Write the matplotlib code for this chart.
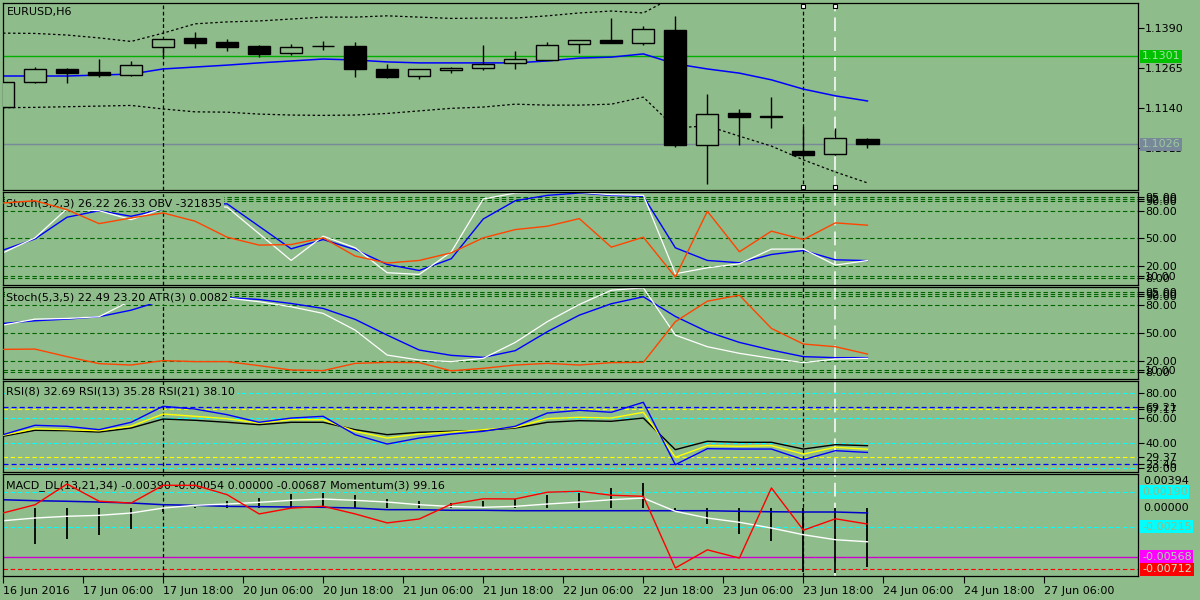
"""EURUSD H6 chart with stochastic, RSI and MACD panels (MT4 look)."""

import numpy as np
import matplotlib.pyplot as plt

BG = "#8FBC8B"

# ---- price data (H6 bars) ----
bars = np.arange(28)
opens = [1.1143, 1.1221, 1.1262, 1.1253, 1.1243, 1.1331, 1.1359, 1.1346, 1.1334, 1.1312,
         1.1334, 1.1334, 1.1262, 1.1240, 1.1259, 1.1265, 1.1281, 1.1290, 1.1340, 1.1353,
         1.1343, 1.1384, 1.1024, 1.1124, 1.1115, 1.1006, 1.0996, 1.1043]
highs = [1.1221, 1.1268, 1.1265, 1.1293, 1.1287, 1.1356, 1.1378, 1.1356, 1.1337, 1.1340,
         1.1349, 1.1346, 1.1278, 1.1262, 1.1268, 1.1337, 1.1318, 1.1346, 1.1353, 1.1421,
         1.1396, 1.1428, 1.1184, 1.1137, 1.1174, 1.1081, 1.1078, 1.1046]
lows = [1.1140, 1.1218, 1.1218, 1.1237, 1.1240, 1.1299, 1.1328, 1.1318, 1.1299, 1.1306,
        1.1321, 1.1237, 1.1234, 1.1231, 1.1249, 1.1259, 1.1262, 1.1289, 1.1312, 1.1343,
        1.1337, 1.1018, 1.0902, 1.1024, 1.1078, 1.0990, 1.0993, 1.1015]
closes = [1.1221, 1.1262, 1.1249, 1.1243, 1.1274, 1.1356, 1.1343, 1.1331, 1.1309, 1.1331,
          1.1333, 1.1262, 1.1237, 1.1262, 1.1265, 1.1278, 1.1293, 1.1337, 1.1353, 1.1343,
          1.1387, 1.1024, 1.1121, 1.1112, 1.1112, 1.0993, 1.1046, 1.1026]
ma = [1.1240, 1.1240, 1.1240, 1.1243, 1.1246, 1.1262, 1.1268, 1.1274, 1.1281, 1.1287,
      1.1293, 1.1290, 1.1284, 1.1281, 1.1281, 1.1281, 1.1281, 1.1287, 1.1296, 1.1299,
      1.1309, 1.1278, 1.1262, 1.1249, 1.1228, 1.1199, 1.1178, 1.1162]
band_up = [1.1374, 1.1373, 1.1368, 1.1359, 1.1348, 1.1374, 1.1403, 1.1409, 1.1412, 1.1418,
           1.1424, 1.1424, 1.1428, 1.1424, 1.1420, 1.1421, 1.1421, 1.1428, 1.1437, 1.1443,
           1.1437, 1.1490, 1.1510, 1.1505, 1.1500, 1.1495, 1.1490, 1.1485]
band_dn = [1.1141, 1.1142, 1.1144, 1.1146, 1.1148, 1.1137, 1.1128, 1.1127, 1.1121, 1.1118,
           1.1117, 1.1118, 1.1123, 1.1131, 1.1139, 1.1143, 1.1152, 1.1149, 1.1149, 1.1152,
           1.1174, 1.1078, 1.1084, 1.1052, 1.1021, 1.0978, 1.0940, 1.0906]
price_ticks = [1.1390, 1.1265, 1.1140, 1.1015]
green_level = 1.1301
last_price = 1.1026

# ---- Stoch(3,2,3) + OBV (scaled) ----
st1_main = [37.5, 49.6, 72.9, 79.9, 73.9, 81.6, 86.0, 87.3, 63.1, 38.9, 48.9, 38.1, 22.1, 15.6,
            28.2, 71.0, 90.6, 96.4, 98.9, 96.4, 95.4, 40.0, 26.4, 23.9, 32.8, 37.1, 27.1, 26.22]
st1_sig = [34.6, 50.7, 82.1, 79.9, 70.3, 82.3, 86.0, 83.7, 55.1, 26.4, 52.5, 40.0, 13.2, 11.4,
           35.5, 92.5, 98.9, 100.0, 99.5, 97.1, 96.4, 12.1, 18.5, 22.8, 38.6, 38.6, 21.4, 26.33]
obv_scaled = [88.2, 90.6, 81.0, 66.0, 72.1, 77.5, 68.6, 51.4, 42.9, 43.5, 50.7, 31.1, 23.6, 26.4,
              34.6, 50.7, 59.6, 63.2, 71.4, 40.7, 51.4, 8.6, 79.3, 35.7, 57.9, 48.9, 66.8, 64.3]

# ---- Stoch(5,3,5) + ATR (scaled) ----
st2_main = [60.4, 63.3, 65.1, 67.7, 74.8, 85.5, 88.0, 88.5, 86.4, 82.1, 76.7, 64.8, 47.7, 31.5,
            25.7, 23.5, 30.8, 51.4, 69.4, 81.8, 89.4, 68.0, 51.4, 39.8, 31.5, 24.3, 23.2, 23.20]
st2_sig = [58.6, 65.1, 65.8, 67.7, 85.2, 91.0, 90.0, 88.0, 84.0, 78.5, 71.3, 53.1, 26.0, 20.6,
           18.9, 22.5, 39.8, 62.3, 81.0, 96.5, 99.1, 47.7, 35.1, 27.9, 22.5, 17.8, 21.7, 22.49]
atr_scaled = [32.2, 32.5, 24.3, 16.7, 15.2, 20.0, 18.9, 18.9, 14.5, 9.8, 9.1, 17.0, 18.1, 17.8,
              8.9, 11.6, 15.2, 17.0, 15.2, 17.8, 18.1, 62.3, 84.6, 91.1, 55.0, 38.0, 35.1, 27.1]
stoch_levels = [95, 92, 90, 80, 50, 20, 10, 8]

# ---- RSI ----
rsi8 = [46.9, 54.4, 53.6, 50.9, 56.8, 69.6, 67.4, 62.9, 56.8, 60.2, 61.6, 46.9, 39.4, 44.2,
        47.4, 49.6, 53.6, 64.2, 66.4, 64.8, 72.8, 22.9, 35.7, 35.4, 35.4, 26.9, 34.1, 32.69]
rsi13 = [46.4, 51.7, 50.9, 50.1, 53.6, 63.4, 61.6, 59.7, 56.2, 58.9, 58.9, 49.6, 44.2, 47.4,
         49.0, 50.9, 52.8, 59.7, 60.8, 60.2, 64.8, 28.8, 38.1, 37.6, 38.1, 31.4, 36.8, 35.28]
rsi21 = [45.6, 50.4, 50.1, 49.0, 52.2, 59.4, 58.4, 56.8, 54.9, 56.8, 56.8, 50.9, 46.9, 48.8,
         49.6, 50.4, 52.2, 56.8, 58.1, 57.6, 60.2, 34.9, 41.6, 40.8, 40.8, 35.4, 38.9, 38.10]
rsi_cyan_levels = [80, 60, 40, 20]
rsi_blue_levels = [69.21, 23.46]
rsi_yellow_levels = [67.17, 29.37]

# ---- MACD + Momentum ----
macd_hist = [-0.00300, -0.00413, -0.00358, -0.00308, -0.00238, -0.00040, 0.00020, 0.00089,
             0.00120, 0.00167, 0.00178, 0.00159, 0.00112, 0.00085, 0.00062, 0.00082, 0.00112,
             0.00159, 0.00178, 0.00237, 0.00295, -0.00035, -0.00179, -0.00296, -0.00378,
             -0.00740, -0.00755, -0.00687]
macd_main = [-0.00145, -0.00113, -0.00093, -0.00082, -0.00055, 0.00003, 0.00035, 0.00050,
             0.00070, 0.00093, 0.00108, 0.00093, 0.00073, 0.00042, 0.00021, 0.00012, 0.00023,
             0.00050, 0.00073, 0.00100, 0.00120, -0.00035, -0.00113, -0.00163, -0.00230,
             -0.00308, -0.00366, -0.00390]
macd_sig = [0.00100, 0.00089, 0.00082, 0.00073, 0.00062, 0.00042, 0.00035, 0.00023, 0.00019,
            0.00015, 0.00012, 0.00003, -0.00016, -0.00016, -0.00023, -0.00023, -0.00028,
            -0.00028, -0.00028, -0.00028, -0.00028, -0.00028, -0.00028, -0.00035, -0.00040,
            -0.00043, -0.00043, -0.00054]
momentum = [99.75, 100.19, 101.30, 100.38, 100.28, 101.23, 101.23, 100.73, 99.70, 100.01,
            100.11, 99.70, 99.22, 99.43, 100.22, 100.51, 100.50, 100.86, 100.91, 100.70,
            100.64, 96.81, 97.78, 97.34, 101.09, 98.83, 99.44, 99.16]
mom_scale = 0.00218  # momentum drawn in the MACD window: (mom - 100) * scale
macd_cyan = [0.00190, -0.00215]
macd_magenta = -0.00568
macd_red = -0.00712

tick_pos = [0, 2.5, 5, 7.5, 10, 12.5, 15, 17.5, 20, 22.5, 25, 27.5, 30, 32.5]
tick_lbl = ["16 Jun 2016", "17 Jun 06:00", "17 Jun 18:00", "20 Jun 06:00", "20 Jun 18:00",
            "21 Jun 06:00", "21 Jun 18:00", "22 Jun 06:00", "22 Jun 18:00", "23 Jun 06:00",
            "23 Jun 18:00", "24 Jun 06:00", "24 Jun 18:00", "27 Jun 06:00"]

fig = plt.figure(figsize=(12, 6), dpi=100, facecolor=BG)


def panel(top, bottom):
    ax = fig.add_axes([3 / 1200, 1 - bottom / 600, 1135 / 1200, (bottom - top) / 600])
    ax.set_facecolor(BG)
    ax.set_xlim(0, 35.45)
    for s in ax.spines.values():
        s.set_color("black")
        s.set_linewidth(0.9)
    ax.tick_params(axis="y", left=False, right=True, labelleft=False, labelright=True,
                   length=4, width=0.8, pad=1, labelsize=8, colors="black")
    ax.set_xticks([])
    # vertical markers
    ax.axvline(5, color="black", ls=(0, (3, 2)), lw=0.9, zorder=2)
    ax.axvline(25, color="black", ls=(0, (3, 2)), lw=0.9, zorder=2)
    ax.axvline(26, color="white", ls=(0, (9, 4)), lw=1.1, zorder=2)
    return ax


def label(ax, y, text):
    ax.text(0.003, y, text, transform=ax.transAxes, fontsize=8, ha="left", va="center",
            bbox=dict(facecolor=BG, edgecolor="none", pad=1.0), zorder=3)


def box(ax, y, text, fc, tc):
    ax.text(1.0035, y, text, transform=ax.get_yaxis_transform(), fontsize=8, color=tc,
            ha="left", va="center", clip_on=False,
            bbox=dict(boxstyle="square,pad=0.15", facecolor=fc, edgecolor="none"))


# ---- main price panel ----
ax = panel(3, 190)
ax.set_ylim(1.08838, 1.14681)
o, h, l, c = map(np.array, (opens, highs, lows, closes))
up = c >= o
ax.vlines(bars, l, h, color="black", lw=1.0, zorder=3)
ax.bar(bars, np.maximum(np.abs(c - o), 0.00003), bottom=np.minimum(o, c), width=0.69,
       color=np.where(up, BG, "black"), edgecolor="black", lw=1.0, zorder=4)
ax.plot(bars, ma, color="#0000FF", lw=1.1, zorder=2)
ax.plot(bars, band_up, color="black", ls=(0, (2, 2)), lw=0.9, zorder=2)
ax.plot(bars, band_dn, color="black", ls=(0, (2, 2)), lw=0.9, zorder=2)
ax.axhline(green_level, color="#00B000", lw=1.0, zorder=1)
ax.axhline(last_price, color="#778899", lw=1.0, zorder=1)
ax.plot([25, 25, 26, 26], [0.985, 0.017, 0.985, 0.017], "s", ms=3.5, mfc="white", mec="black",
        mew=0.8, transform=ax.get_xaxis_transform(), clip_on=False, zorder=6)
ax.set_yticks(price_ticks)
ax.set_yticklabels([f"{v:.4f}" for v in price_ticks])
box(ax, green_level, f"{green_level:.4f}", "#00C000", "#A8E0A8")
box(ax, last_price, f"{last_price:.4f}", "#778899", "#9CC89C")
ax.text(0.0035, 0.952, "EURUSD,H6", transform=ax.transAxes, fontsize=8, ha="left", va="center")

# ---- Stoch(3,2,3) / OBV ----
ax = panel(192, 285)
ax.set_ylim(0, 100)
for v in stoch_levels:
    ax.axhline(v, color="#006400", ls=(0, (4, 2.5)), lw=0.8, zorder=1)
ax.plot(bars, st1_main, color="#0000FF", lw=1.0, zorder=2)
ax.plot(bars, st1_sig, color="white", lw=0.9, zorder=2)
label(ax, 0.876, "Stoch(3,2,3) 26.22 26.33 OBV -321835")
ax.plot(bars, obv_scaled, color="#FF4500", lw=1.0, zorder=4)
ax.set_yticks(stoch_levels)
ax.set_yticklabels([f"{v:.2f}" for v in stoch_levels])

# ---- Stoch(5,3,5) / ATR ----
ax = panel(287, 379)
ax.set_ylim(0, 100)
for v in stoch_levels:
    ax.axhline(v, color="#006400", ls=(0, (4, 2.5)), lw=0.8, zorder=1)
ax.plot(bars, st2_main, color="#0000FF", lw=1.0, zorder=2)
ax.plot(bars, st2_sig, color="white", lw=0.9, zorder=2)
label(ax, 0.886, "Stoch(5,3,5) 22.49 23.20 ATR(3) 0.0082")
ax.plot(bars, atr_scaled, color="#FF4500", lw=1.0, zorder=4)
ax.set_yticks(stoch_levels)
ax.set_yticklabels([f"{v:.2f}" for v in stoch_levels])

# ---- RSI ----
ax = panel(381, 472)
ax.set_ylim(17.04, 89.84)
for v in rsi_cyan_levels:
    ax.axhline(v, color="#00FFFF", ls=(0, (4, 2.5)), lw=0.8, zorder=1)
for v in rsi_blue_levels:
    ax.axhline(v, color="#0000FF", ls=(0, (4, 2.5)), lw=0.9, zorder=1)
for v in rsi_yellow_levels:
    ax.axhline(v, color="#FFFF00", ls=(0, (4, 2.5)), lw=0.8, zorder=1)
label(ax, 0.885, "RSI(8) 32.69 RSI(13) 35.28 RSI(21) 38.10")
ax.plot(bars, rsi21, color="black", lw=1.0, zorder=4)
ax.plot(bars, rsi13, color="#FFFF00", lw=1.0, zorder=4)
ax.plot(bars, rsi8, color="#0000FF", lw=1.0, zorder=4)
rsi_ticks = [80, rsi_blue_levels[0], rsi_yellow_levels[0], 60, 40,
             rsi_yellow_levels[1], rsi_blue_levels[1], 20]
ax.set_yticks(rsi_ticks)
ax.set_yticklabels([f"{v:.2f}" for v in rsi_ticks])

# ---- MACD / Momentum ----
ax = panel(474, 576)
ax.set_ylim(-0.00789, 0.0040)
for v in macd_cyan:
    ax.axhline(v, color="#00FFFF", ls=(0, (4, 2.5)), lw=0.8, zorder=1)
ax.axhline(macd_magenta, color="#CC00CC", lw=1.0, zorder=1)
ax.axhline(macd_red, color="#FF0000", ls=(0, (4, 2.5)), lw=0.8, zorder=1)
ax.vlines(bars, 0, macd_hist, color="black", lw=1.3, zorder=2)
ax.plot(bars, macd_sig, color="#0000CC", lw=1.1, zorder=2)
ax.plot(bars, macd_main, color="white", lw=1.0, zorder=2)
label(ax, 0.887, "MACD_DL(13,21,34) -0.00390 -0.00054 0.00000 -0.00687 Momentum(3) 99.16")
ax.plot(bars, (np.array(momentum) - 100) * mom_scale, color="#FF0000", lw=1.0, zorder=4)
ax.set_yticks([])
ax.text(1.0044, 0.931, "0.00394", transform=ax.transAxes, fontsize=8, ha="left", va="center")
ax.text(1.0044, 0.0, "0.00000", transform=ax.get_yaxis_transform(), fontsize=8,
        ha="left", va="center")
box(ax, macd_cyan[0], f"{macd_cyan[0]:.5f}", "#00FFFF", BG)
box(ax, macd_cyan[1], f"{macd_cyan[1]:.5f}", "#00FFFF", BG)
box(ax, macd_magenta, f"{macd_magenta:.5f}", "#FF00FF", "#A8E0A8")
box(ax, macd_red, f"{macd_red:.5f}", "#FF0000", "#C8E8C8")
ax.set_xticks(tick_pos)
ax.set_xticklabels(tick_lbl, ha="left")
ax.tick_params(axis="x", bottom=True, length=5, width=0.8, pad=2, labelsize=8, colors="black")

fig.savefig("out.png", dpi=100, facecolor=BG)
